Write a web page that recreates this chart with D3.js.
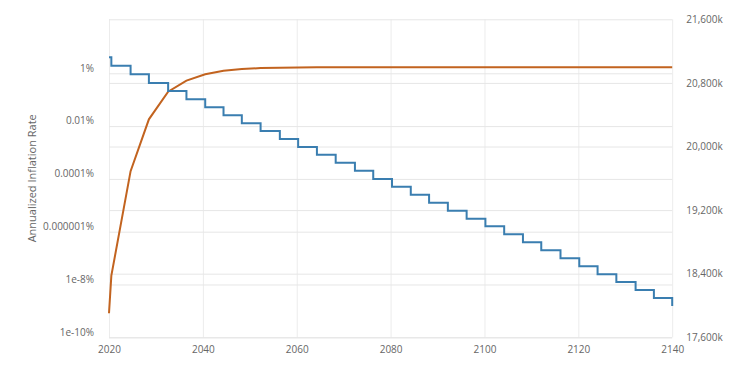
<!DOCTYPE html>
<html>
<head>
<meta charset="utf-8">
<script src="https://cdn.jsdelivr.net/npm/d3@7"></script>
<style>
  body { margin: 0; background: #fff; }
  svg text { font-family: "Open Sans", sans-serif; fill: #666; }
</style>
</head>
<body>
<div id="chart"></div>
<script>
// years where the lines change (2020 start, then each halving)
var years = [2020, 2020.5, 2024.6, 2028.5, 2032.6, 2036.5, 2040.5, 2044.4, 2048.3, 2052.3, 2056.4,
  2060.3, 2064.3, 2068.3, 2072.4, 2076.3, 2080.3, 2084.3, 2088.2, 2092.2, 2096.2,
  2100.2, 2104.2, 2108.2, 2112.1, 2116.2, 2120.2, 2124.1, 2128.1, 2132.2, 2136.1, 2140];

// annualized inflation rate, percent (left, log)
var inflation = [4.04, 1.94, 0.917, 0.429, 0.214, 0.1036, 0.0515, 0.0257, 0.01277, 0.00652, 0.00325,
  0.001616, 0.000826, 0.000411, 0.000205, 9.9e-5, 5.07e-5, 2.52e-5, 1.25e-5, 6.24e-6, 3.11e-6,
  1.60e-6, 7.97e-7, 3.97e-7, 1.97e-7, 9.8e-8, 4.89e-8, 2.43e-8, 1.24e-8, 6.19e-9, 3.08e-9, 1.53e-9];

// supply in thousands of coins (right)
var supply = [17902, 18375, 19690, 20342, 20689, 20828, 20908, 20954, 20975, 20986, 20991,
  20994, 20996, 20997, 20998, 20998, 20998, 20998, 20998, 20998, 20998,
  20998, 20998, 20998, 20998, 20998, 20998, 20998, 20998, 20998, 20998, 20998];

var xTicks = [2020, 2040, 2060, 2080, 2100, 2120, 2140];
var leftTicks = [1, 1e-2, 1e-4, 1e-6, 1e-8, 1e-10];
var leftLabels = ["1%", "0.01%", "0.0001%", "0.000001%", "1e-8%", "1e-10%"];
var rightTicks = [17600, 18400, 19200, 20000, 20800, 21600];

var width = 748, height = 374;
var margin = {top: 19.3, right: 75.8, bottom: 36.7, left: 109};

var x = d3.scaleLinear().domain([2020, 2140]).range([margin.left, width - margin.right]);
var yL = d3.scaleLog().domain([1e-10, 111]).range([height - margin.bottom, margin.top]);
var yR = d3.scaleLinear().domain([17600, 21600]).range([height - margin.bottom, margin.top]);

var svg = d3.select("#chart").append("svg")
  .attr("width", width)
  .attr("height", height);

var plotW = width - margin.left - margin.right;
var plotH = height - margin.top - margin.bottom;

// vertical grid + x labels
var gx = svg.append("g")
  .attr("transform", `translate(0,${height - margin.bottom})`)
  .call(d3.axisBottom(x).tickValues(xTicks).tickFormat(d3.format("d")).tickSize(-plotH).tickPadding(9));
gx.select(".domain").remove();
gx.selectAll("line").attr("stroke", "#ececec");
gx.selectAll("text").style("font-size", "10px");

// left grid + labels (labels sit a bit above their lines in the original)
var gl = svg.append("g")
  .attr("transform", `translate(${margin.left},0)`)
  .call(d3.axisLeft(yL).tickValues(leftTicks).tickFormat((d, i) => leftLabels[i]).tickSize(-plotW).tickPadding(15));
gl.select(".domain").remove();
gl.selectAll("line").attr("stroke", "#e6e6e6");
gl.selectAll("text").style("font-size", "10px").attr("dy", "-0.22em");

// right grid + labels
var gr = svg.append("g")
  .attr("transform", `translate(${width - margin.right},0)`)
  .call(d3.axisRight(yR).tickValues(rightTicks).tickFormat(d => d3.format(",")(d) + "k").tickSize(-plotW).tickPadding(14));
gr.select(".domain").remove();
gr.selectAll("line").attr("stroke", "#e6e6e6");
gr.selectAll("text").style("font-size", "10px");

svg.append("text")
  .attr("transform", `translate(36,${margin.top + plotH / 2}) rotate(-90)`)
  .attr("text-anchor", "middle")
  .style("font-size", "11px")
  .text("Annualized Inflation Rate");

var stepLine = d3.line()
  .x((d, i) => x(years[i]))
  .y(d => yL(d))
  .curve(d3.curveStepAfter);

var supplyLine = d3.line()
  .x((d, i) => x(years[i]))
  .y(d => yR(d));

svg.append("path")
  .datum(supply)
  .attr("fill", "none")
  .attr("stroke", "#c2631f")
  .attr("stroke-width", 2)
  .attr("d", supplyLine);

svg.append("path")
  .datum(inflation)
  .attr("fill", "none")
  .attr("stroke", "#3a7eb0")
  .attr("stroke-width", 2)
  .attr("d", stepLine);
</script>
</body>
</html>
